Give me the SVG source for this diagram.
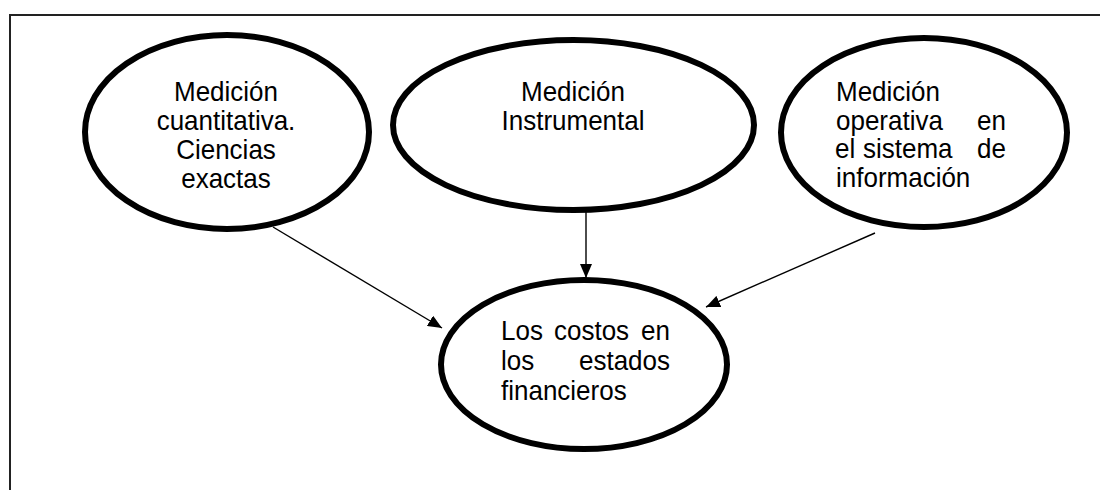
<svg xmlns="http://www.w3.org/2000/svg" width="1100" height="490" viewBox="0 0 1100 490">
<defs>
<style>
.node{fill:#fff;stroke:#000;stroke-width:6}
.t{font-family:"Liberation Sans",Arial,sans-serif;font-size:26px;fill:#000}
.c{text-anchor:middle}
.e{text-anchor:end}
.conn{stroke:#000;stroke-width:1.4;fill:none}
</style>
<marker id="arr" viewBox="0 0 14 12" refX="14" refY="6" markerWidth="14" markerHeight="12" markerUnits="userSpaceOnUse" orient="auto">
<path d="M0,0 L14,6 L0,12 z" fill="#000"/>
</marker>
</defs>
<rect width="1100" height="490" fill="#fff"/>
<g id="frame">
<path d="M10,490 L10,15 L1100,15" fill="none" stroke="#222" stroke-width="2"/>
</g>
<g id="connectors">
<line class="conn" x1="273" y1="227" x2="442" y2="328" marker-end="url(#arr)"/>
<line class="conn" x1="586" y1="210" x2="586" y2="278" marker-end="url(#arr)"/>
<line class="conn" x1="875" y1="233" x2="706" y2="307" marker-end="url(#arr)"/>
</g>
<g id="n1">
<ellipse class="node" cx="227" cy="132" rx="142" ry="97"/>
<text class="t c" transform="translate(226,101) scale(1,1.08)">Medición</text>
<text class="t c" transform="translate(226,130) scale(1,1.08)">cuantitativa.</text>
<text class="t c" transform="translate(226,159) scale(1,1.08)">Ciencias</text>
<text class="t c" transform="translate(226,188) scale(1,1.08)">exactas</text>
</g>
<g id="n2">
<ellipse class="node" cx="573.5" cy="125" rx="180.5" ry="85"/>
<text class="t c" transform="translate(573,101) scale(1,1.08)">Medición</text>
<text class="t c" transform="translate(573,130) scale(1,1.08)">Instrumental</text>
</g>
<g id="n3">
<ellipse class="node" cx="924" cy="132.5" rx="143" ry="94.5"/>
<text class="t" transform="translate(836,101) scale(1,1.08)">Medición</text>
<text class="t" transform="translate(836,130) scale(1,1.08)">operativa</text>
<text class="t e" transform="translate(1006,130) scale(1,1.08)">en</text>
<text class="t" transform="translate(835,158) scale(1,1.08)">el</text>
<text class="t" transform="translate(863,158) scale(1,1.08)">sistema</text>
<text class="t e" transform="translate(1006,158) scale(1,1.08)">de</text>
<text class="t" transform="translate(836,187) scale(1,1.08)">información</text>
</g>
<g id="n4">
<ellipse class="node" cx="584" cy="364.5" rx="143" ry="84.5"/>
<text class="t" transform="translate(501,340) scale(1,1.08)">Los</text>
<text class="t" transform="translate(554,340) scale(1,1.08)">costos</text>
<text class="t e" transform="translate(670,340) scale(1,1.08)">en</text>
<text class="t" transform="translate(501,370) scale(1,1.08)">los</text>
<text class="t e" transform="translate(670,370) scale(1,1.08)">estados</text>
<text class="t" transform="translate(501,400) scale(1,1.08)">financieros</text>
</g>
</svg>
